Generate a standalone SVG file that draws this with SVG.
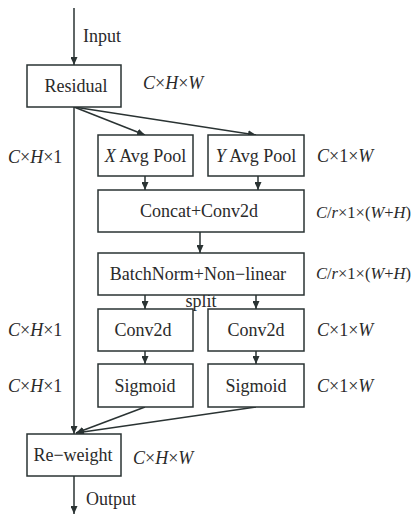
<svg xmlns="http://www.w3.org/2000/svg" width="417" height="515" viewBox="0 0 417 515">
<style>
.box{fill:#fff;stroke:#2a3333;stroke-width:1.5}
.t{font-size:18px;fill:#2a2a2a}
.s{font-size:16.5px}
.c{text-anchor:middle}
.i{font-style:italic}
.ln{stroke:#2a3333;stroke-width:1.5;fill:none}
</style>
<defs>
<marker id="ah" viewBox="0 0 10 10" refX="10" refY="5" markerWidth="8" markerHeight="7" markerUnits="userSpaceOnUse" orient="auto" preserveAspectRatio="none">
<path d="M0,0 L10,5 L0,10 Z" fill="#2a3333"/>
</marker>
</defs>
<rect width="417" height="515" fill="#fff"/>
<g id="connectors">
<line class="ln" x1="74" y1="8" x2="74" y2="65" marker-end="url(#ah)"/>
<line class="ln" x1="74" y1="107" x2="145" y2="135" marker-end="url(#ah)"/>
<line class="ln" x1="74" y1="107" x2="256" y2="135" marker-end="url(#ah)"/>
<line class="ln" x1="74" y1="107" x2="74" y2="434" marker-end="url(#ah)"/>
<line class="ln" x1="145" y1="176" x2="145" y2="190" marker-end="url(#ah)"/>
<line class="ln" x1="258" y1="176" x2="258" y2="190" marker-end="url(#ah)"/>
<line class="ln" x1="200" y1="232" x2="200" y2="253" marker-end="url(#ah)"/>
<line class="ln" x1="145" y1="295" x2="145" y2="309" marker-end="url(#ah)"/>
<line class="ln" x1="256" y1="295" x2="256" y2="309" marker-end="url(#ah)"/>
<line class="ln" x1="145" y1="351" x2="145" y2="364" marker-end="url(#ah)"/>
<line class="ln" x1="256" y1="351" x2="256" y2="364" marker-end="url(#ah)"/>
<line class="ln" x1="145" y1="407" x2="76" y2="433" marker-end="url(#ah)"/>
<line class="ln" x1="256" y1="407" x2="76" y2="433" marker-end="url(#ah)"/>
<line class="ln" x1="74" y1="476" x2="74" y2="514" marker-end="url(#ah)"/>
</g>
<g font-family="'Liberation Serif', 'DejaVu Serif', serif">
<g id="labels">
<text class="t" x="83" y="42">Input</text>
<text class="t" x="143" y="89"><tspan class="i">C</tspan>×<tspan class="i">H</tspan>×<tspan class="i">W</tspan></text>
<text class="t" x="8" y="163"><tspan class="i">C</tspan>×<tspan class="i">H</tspan>×1</text>
<text class="t" x="317" y="162"><tspan class="i">C</tspan>×1×<tspan class="i">W</tspan></text>
<text class="t s" x="316" y="218"><tspan class="i">C</tspan>/<tspan class="i">r</tspan>×1×(<tspan class="i">W</tspan>+<tspan class="i">H</tspan>)</text>
<text class="t s" x="316" y="279"><tspan class="i">C</tspan>/<tspan class="i">r</tspan>×1×(<tspan class="i">W</tspan>+<tspan class="i">H</tspan>)</text>
<text class="t c" x="201" y="307">split</text>
<text class="t" x="8" y="336"><tspan class="i">C</tspan>×<tspan class="i">H</tspan>×1</text>
<text class="t" x="317" y="336"><tspan class="i">C</tspan>×1×<tspan class="i">W</tspan></text>
<text class="t" x="8" y="392"><tspan class="i">C</tspan>×<tspan class="i">H</tspan>×1</text>
<text class="t" x="317" y="392"><tspan class="i">C</tspan>×1×<tspan class="i">W</tspan></text>
<text class="t" x="133" y="464"><tspan class="i">C</tspan>×<tspan class="i">H</tspan>×<tspan class="i">W</tspan></text>
<text class="t" x="86" y="505">Output</text>
</g>
<g id="residual"><rect class="box" x="27" y="65" width="94" height="42"/><text class="t c" x="76" y="92">Residual</text></g>
<g id="xpool"><rect class="box" x="98" y="135" width="95" height="41"/><text class="t c" x="145.5" y="162"><tspan class="i">X</tspan> Avg Pool</text></g>
<g id="ypool"><rect class="box" x="208" y="135" width="96" height="41"/><text class="t c" x="256" y="162"><tspan class="i">Y</tspan> Avg Pool</text></g>
<g id="concat"><rect class="box" x="98" y="190" width="206" height="42"/><text class="t c" x="199" y="217">Concat+Conv2d</text></g>
<g id="batchnorm"><rect class="box" x="98" y="253" width="206" height="42"/><text class="t c" x="198" y="280">BatchNorm+Non−linear</text></g>
<g id="conv2d-left"><rect class="box" x="98" y="309" width="95" height="42"/><text class="t c" x="143" y="336">Conv2d</text></g>
<g id="conv2d-right"><rect class="box" x="208" y="309" width="96" height="42"/><text class="t c" x="256" y="336">Conv2d</text></g>
<g id="sigmoid-left"><rect class="box" x="98" y="364" width="95" height="43"/><text class="t c" x="145" y="392">Sigmoid</text></g>
<g id="sigmoid-right"><rect class="box" x="208" y="364" width="96" height="43"/><text class="t c" x="256" y="392">Sigmoid</text></g>
<g id="reweight"><rect class="box" x="27" y="434" width="94" height="42"/><text class="t c" x="73" y="461">Re−weight</text></g>
</g>
</svg>
